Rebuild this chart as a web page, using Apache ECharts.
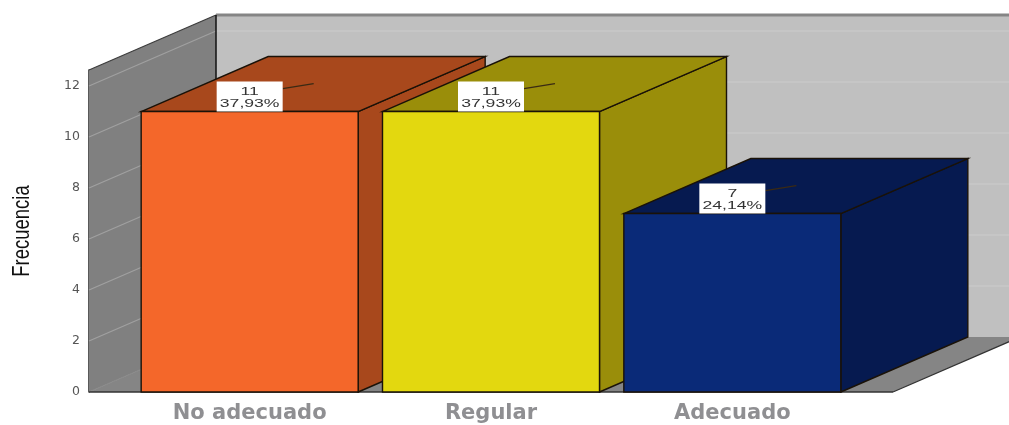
<!DOCTYPE html>
<html>
<head>
<meta charset="utf-8">
<style>html,body{margin:0;padding:0;background:#fff}#chart{width:1009px;height:425px}</style>
<script src="https://cdn.jsdelivr.net/npm/echarts@6/dist/echarts.min.js"></script>
</head>
<body>
<div id="chart"></div>
<script>
// Frequency of each level, drawn as extruded columns in an open box
const categories = ['No adecuado', 'Regular', 'Adecuado'];
const frequencies = [11, 11, 7];
const shares = ['37,93%', '37,93%', '24,14%'];
const yTicks = [0, 2, 4, 6, 8, 10, 12];
const frontColors = ['#f4672a', '#e3d80f', '#0a2a78'];
const sideColors = ['#a8481c', '#9a8e0a', '#061a50'];

const DEPTH_X = 127;
const DEPTH_Y = -55;
const WALL_PAD = 40;
const BAR_WIDTH = 217;
const EDGE = '#1a1208';

function poly(points, fill, stroke) {
  return {
    type: 'polygon',
    shape: { points },
    style: { fill, stroke: stroke || 'none', lineWidth: stroke ? 1.4 : 0 }
  };
}
function seg(x1, y1, x2, y2, stroke, width) {
  return {
    type: 'line',
    shape: { x1, y1, x2, y2 },
    style: { stroke, lineWidth: width || 1 }
  };
}

// Floor, back wall and side wall, sized from the plot area
function renderBox(params, api) {
  const cs = params.coordSys;
  const l = cs.x - WALL_PAD;
  const r = cs.x + cs.width + WALL_PAD;
  const top = cs.y;
  const bottom = cs.y + cs.height;
  const farRight = r + DEPTH_X;
  const children = [
    poly([[l + DEPTH_X, top + DEPTH_Y], [farRight, top + DEPTH_Y], [farRight, bottom + DEPTH_Y], [l + DEPTH_X, bottom + DEPTH_Y]], '#c0c0c0'),
    poly([[l, top], [l + DEPTH_X, top + DEPTH_Y], [l + DEPTH_X, bottom + DEPTH_Y], [l, bottom]], '#808080'),
    poly([[l, bottom], [l + DEPTH_X, bottom + DEPTH_Y], [farRight, bottom + DEPTH_Y], [r, bottom]], '#858585')
  ];
  yTicks.forEach(function (t) {
    const y = api.coord([0, t])[1];
    children.push(seg(l, y, l + DEPTH_X, y + DEPTH_Y, t > 0 ? '#a0a0a0' : '#8a8a8a', 1.2));
    if (t > 0) {
      children.push(seg(l + DEPTH_X, y + DEPTH_Y, farRight, y + DEPTH_Y, '#c9c9c9', 1.5));
    }
  });
  children.push(
    seg(l, top, l + DEPTH_X, top + DEPTH_Y, '#3c3c3c', 1.2),
    seg(l + DEPTH_X, top + DEPTH_Y, farRight, top + DEPTH_Y, '#858585', 3),
    seg(l + DEPTH_X, top + DEPTH_Y, l + DEPTH_X, bottom + DEPTH_Y, '#111', 1.5),
    seg(l, bottom, r, bottom, '#333', 1.5),
    seg(r, bottom, r + DEPTH_X, bottom + DEPTH_Y, '#333', 1.2)
  );
  return { type: 'group', children };
}

// One extruded column with its count and share tag
function renderColumn(params, api) {
  const i = api.value(0);
  const v = api.value(1);
  const base = api.coord([i, 0]);
  const head = api.coord([i, v]);
  const x0 = base[0] - BAR_WIDTH / 2;
  const x1 = base[0] + BAR_WIDTH / 2;
  const yT = head[1];
  const yB = base[1];
  const cx = base[0];
  return {
    type: 'group',
    children: [
      poly([[x1, yB], [x1 + DEPTH_X, yB + DEPTH_Y], [x1 + DEPTH_X, yT + DEPTH_Y], [x1, yT]], sideColors[i], EDGE),
      poly([[x0, yT], [x0 + DEPTH_X, yT + DEPTH_Y], [x1 + DEPTH_X, yT + DEPTH_Y], [x1, yT]], sideColors[i], EDGE),
      seg(cx + 33, yT - 23, cx + 64, yT - 28, '#3a2a14', 1.2),
      poly([[x0, yT], [x1, yT], [x1, yB], [x0, yB]], frontColors[i], EDGE),
      {
        type: 'rect',
        shape: { x: cx - 33, y: yT - 30, width: 66, height: 30 },
        style: { fill: '#ffffff' }
      },
      {
        type: 'text',
        x: cx,
        y: yT - 14,
        scaleX: 1.6,
        style: {
          text: frequencies[i] + '\n' + shares[i],
          fill: '#333',
          font: '11px "Liberation Sans"',
          lineHeight: 12,
          align: 'center',
          verticalAlign: 'middle'
        }
      }
    ]
  };
}

const chart = echarts.init(document.getElementById('chart'), null, { renderer: 'canvas' });
chart.setOption({
  animation: false,
  backgroundColor: '#ffffff',
  grid: { left: 129, top: 70, width: 724, height: 322, outerBoundsMode: 'none' },
  xAxis: {
    type: 'category',
    data: categories,
    axisLine: { show: false },
    axisTick: { show: false },
    axisLabel: {
      margin: 11,
      color: '#8f8f92',
      fontFamily: 'DejaVu Sans',
      fontWeight: 'bold',
      fontSize: 21
    }
  },
  yAxis: {
    type: 'value',
    min: 0,
    max: 12.63,
    interval: 2,
    offset: WALL_PAD,
    splitLine: { show: false },
    axisTick: { show: false },
    axisLine: { show: true, lineStyle: { color: '#222', width: 1.5 } },
    axisLabel: {
      margin: 9,
      color: '#555',
      fontFamily: 'DejaVu Sans',
      fontSize: 12.5,
      verticalAlignMinLabel: 'middle',
      verticalAlignMaxLabel: 'middle',
      customValues: yTicks
    }
  },
  graphic: [{
    type: 'text',
    x: 22,
    y: 231,
    rotation: Math.PI / 2,
    scaleX: 0.77,
    z: 10,
    style: {
      text: 'Frecuencia',
      fill: '#111',
      font: '24px "Liberation Sans"',
      align: 'center',
      verticalAlign: 'middle'
    }
  }],
  series: [
    {
      type: 'custom',
      z: 1,
      silent: true,
      renderItem: renderBox,
      data: [0],
      encode: { x: 0 },
      clip: false
    },
    {
      type: 'custom',
      z: 2,
      silent: true,
      renderItem: renderColumn,
      encode: { x: 0, y: 1 },
      clip: false,
      data: frequencies.map(function (f, i) { return [i, f]; })
    }
  ]
});
</script>
</body>
</html>
